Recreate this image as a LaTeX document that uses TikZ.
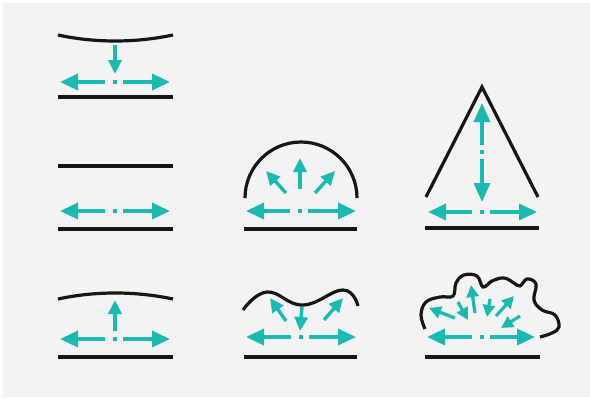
\documentclass[tikz,border=0pt]{standalone}
\usetikzlibrary{arrows.meta}
\definecolor{flowteal}{RGB}{28,184,178}
\definecolor{ink}{RGB}{22,22,22}
\definecolor{panelgrey}{RGB}{243,243,243}
\newcommand\hflow[4]{%
  \draw[bigflow] ({#1-10},#2) -- (#3,#2);
  \draw[bigflow] ({#1+8},#2) -- (#4,#2);
  \draw[dotmark] ({#1-2},#2) -- ({#1+2},#2);}
\begin{document}
\begin{tikzpicture}[x=1pt,y=-1pt,
  surf/.style={draw=ink,line width=3.2pt},
  flowline/.style={draw=flowteal,line width=3.4pt},
  bigflow/.style={flowline,-{Triangle[length=18pt,width=16pt]}},
  tallflow/.style={flowline,-{Triangle[length=19pt,width=16pt]}},
  midflow/.style={flowline,-{Triangle[length=14pt,width=13pt]}},
  smallflow/.style={draw=flowteal,line width=3.2pt,-{Triangle[length=12pt,width=12pt]}},
  dotmark/.style={flowline}]
\useasboundingbox (0,0) rectangle (590,399);
\fill[white] (0,0) rectangle (590,399);
\fill[panelgrey] (3,3) rectangle (590,397);

% panel 1: concave top
\draw[surf] (58,35) .. controls (95,43) and (135,43) .. (173,35);
\draw[midflow] (115,45) -- (115,74);
\hflow{115}{82}{60}{170}
\draw[surf] (58,97) -- (173,97);

% panel 2: flat
\draw[surf] (58,166) -- (173,166);
\hflow{115}{211}{60}{170}
\draw[surf] (58,229) -- (173,229);

% panel 3: convex top
\draw[surf] (58,299) .. controls (95,291) and (135,291) .. (173,299);
\draw[midflow] (115,331) -- (115,300);
\hflow{115}{339}{60}{170}
\draw[surf] (58,357) -- (173,357);

% dome
\draw[surf] (245,198) .. controls (245,167.1) and (270.1,142) .. (301,142)
  .. controls (331.9,142) and (357,167.1) .. (357,198);
\draw[midflow] (300,189) -- (300,158);
\draw[midflow] (286,193) -- (266,171);
\draw[midflow] (315,193) -- (335,171);
\hflow{300}{211}{246}{356}
\draw[surf] (244,229) -- (357,229);

% triangle
\draw[surf,line join=miter] (426,197) -- (482,87) -- (538,197);
\draw[tallflow] (482,145) -- (482,103);
\draw[dotmark] (482,150) -- (482,154);
\draw[tallflow] (482,159) -- (482,202);
\hflow{482}{212}{428}{537}
\draw[surf] (425,228) -- (539,228);

% wave
\draw[surf] plot[smooth,tension=0.75] coordinates {(243,310) (267,292) (303,305) (343,290) (358,306)};
\draw[midflow] (286,321) -- (270,298);
\draw[midflow] (324,320) -- (343,298);
\draw[midflow] (302,307) -- (300,331);
\hflow{301}{337}{246}{356}
\draw[surf] (244,357) -- (357,357);

% blob
\draw[surf] plot[smooth,tension=0.65] coordinates {(425,329) (421,315) (426,302) (440,297) (453,296) (456,283) (464,275) (477,276) (483,287) (492,281) (504,278) (514,283) (520,286) (527,279) (536,284) (534,300) (542,310) (555,315) (559,327) (552,333) (540,337)};
\draw[smallflow] (455,318) -- (429,308);
\draw[smallflow] (458,302) -- (468,320);
\draw[smallflow] (475,313) -- (471,285);
\draw[smallflow] (490,299) -- (487,317);
\draw[smallflow] (496,316) -- (514,296);
\draw[smallflow] (520,316) -- (501,328);
\hflow{482}{337}{427}{535}
\draw[surf] (425,357) -- (540,357);
\end{tikzpicture}
\end{document}
